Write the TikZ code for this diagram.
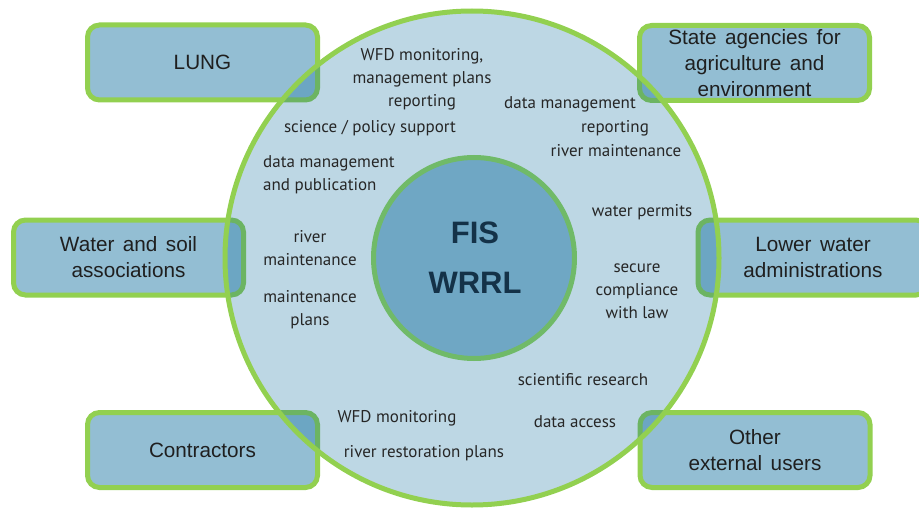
\documentclass[tikz,border=0pt]{standalone}
\usepackage{fontspec}
\setmainfont{Liberation Sans}
\newfontfamily\humfont{PT Sans}
\newcommand{\wideboxspace}{\spaceskip=8.5pt\relax}
\definecolor{fisgreen}{RGB}{146,208,80}
\definecolor{innergreen}{RGB}{112,186,104}
\definecolor{boxblue}{RGB}{147,190,211}
\definecolor{tintblue}{RGB}{0,100,150}
\definecolor{innerblue}{RGB}{111,167,196}
\definecolor{navy}{RGB}{20,50,72}
\definecolor{txtgray}{RGB}{38,38,38}
\begin{document}
\begin{tikzpicture}[x=1pt,y=-1pt,
  stakebox/.style={draw=fisgreen, line width=5pt, fill=boxblue, rounded corners=12pt,
    minimum width=230pt, minimum height=75pt},
  boxtext/.style={align=center, font=\fontsize{20.7}{26}\selectfont\wideboxspace, text=black!88},
  lbl/.style={font=\humfont\fontsize{17}{23}\selectfont, text=txtgray, align=center, inner sep=0pt}]
\useasboundingbox (0,0) rectangle (919,511);
% stakeholder boxes (drawn first, circle tints them)
\node[stakebox] (lung) at (202.5,62.5) {};
\node[stakebox] (state) at (754.5,63) {};
\node[stakebox] (wsa) at (128.5,257.5) {};
\node[stakebox] (lower) at (813,257.5) {};
\node[stakebox] (contr) at (202.5,450) {};
\node[stakebox] (other) at (755,450) {};
% outer circle
\node[circle, inner sep=0pt, minimum size=494pt, fill=tintblue, fill opacity=0.26, draw=fisgreen, draw opacity=1, line width=5pt] (outer) at (472,258) {};
% inner circle
\node[circle, inner sep=0pt, minimum size=201pt, fill=innerblue, draw=innergreen, line width=5pt] (inner) at (474,258) {};
\node[align=center, font=\bfseries\fontsize{31}{50}\selectfont, text=navy] (fis) at (475,258) {FIS\\WRRL};
% box texts
\node[boxtext] (tlung) at (lung.center) {LUNG};
\node[boxtext] (tstate) at (state.center) {State agencies for\\agriculture and\\environment};
\node[boxtext] (twsa) at (wsa.center) {Water and soil\\associations};
\node[boxtext] (tlower) at (lower.center) {Lower water\\administrations};
\node[boxtext] (tcontr) at (contr.center) {Contractors};
\node[boxtext] (tother) at (other.center) {Other\\external users};
% labels in ring
\node[lbl] (l1) at (422,79) {WFD monitoring,\\management plans\\reporting};
\node[lbl] (l2) at (370,128) {science / policy support};
\node[lbl, align=left, anchor=west] (l3) at (263,175) {data management\\and publication};
\node[lbl] (l4) at (310,248.5) {river\\maintenance};
\node[lbl] (l5) at (310,309.5) {maintenance\\plans};
\node[lbl] (r1) at (570,104) {data management};
\node[lbl] (r2) at (615,128) {reporting};
\node[lbl] (r3) at (616,151) {river maintenance};
\node[lbl] (r4) at (642,212) {water permits};
\node[lbl] (r5) at (637,291) {secure\\compliance\\with law};
\node[lbl] (r6) at (583,380) {scientific research};
\node[lbl] (r7) at (575,422) {data access};
\node[lbl] (b1) at (397,418) {WFD monitoring};
\node[lbl] (b2) at (424,453) {river restoration plans};
\end{tikzpicture}
\end{document}
